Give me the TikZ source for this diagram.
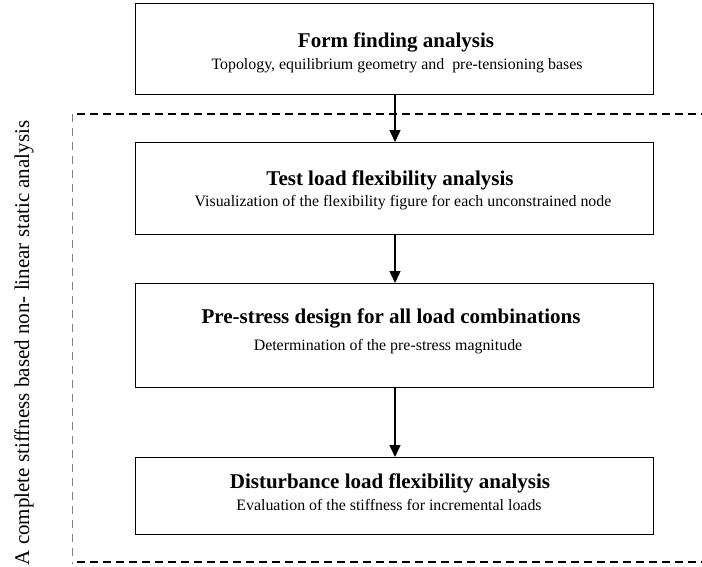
\documentclass[tikz,border=0pt]{standalone}
\usepackage{fontspec}
\setmainfont{Liberation Serif}
\usetikzlibrary{arrows.meta}
\begin{document}
\begin{tikzpicture}[x=1pt,y=-1pt,
  stepbox/.style={draw,line width=1.4pt,minimum width=518pt,inner sep=0pt,align=center},
  ttl/.style={font=\fontsize{21}{23}\selectfont\bfseries,inner sep=0pt,anchor=base},
  sub/.style={font=\fontsize{15.9}{17}\selectfont,inner sep=0pt,anchor=base},
  flow/.style={line width=1.4pt,-{Triangle[width=11pt,length=12pt]}},
  groupline/.style={line width=1.8pt,dash pattern=on 8pt off 5pt},
  sideline/.style={gray,line width=0.7pt,dash pattern=on 8pt off 6pt}]
\useasboundingbox (0,0) rectangle (702,566);
% boxes
\node[stepbox,minimum height=91pt,anchor=north west] (b1) at (135,3) {};
\node[stepbox,minimum height=92pt,anchor=north west] (b2) at (135,142) {};
\node[stepbox,minimum height=104pt,anchor=north west] (b3) at (135,283) {};
\node[stepbox,minimum height=77pt,anchor=north west] (b4) at (135,457) {};
% texts
\node[ttl] (t1) at (396,47) {Form finding analysis};
\node[sub] (s1) at (397,69) {Topology, equilibrium geometry and\ \ pre-tensioning bases};
\node[ttl] (t2) at (390,185) {Test load flexibility analysis};
\node[sub] (s2) at (403,206) {Visualization of the flexibility figure for each unconstrained node};
\node[ttl] (t3) at (391,323) {Pre-stress design for all load combinations};
\node[sub] (s3) at (388,350) {Determination of the pre-stress magnitude};
\node[ttl] (t4) at (390,488) {Disturbance load flexibility analysis};
\node[sub] (s4) at (389,510) {Evaluation of the stiffness for incremental loads};
% arrows
\draw[flow] (b1.south -| 395,0) -- (b2.north -| 395,0);
\draw[flow] (b2.south -| 395,0) -- (b3.north -| 395,0);
\draw[flow] (b3.south -| 395,0) -- (b4.north -| 395,0);
% group
\coordinate (gtl) at (77,114);
\coordinate (gtr) at (702,114);
\coordinate (gbl) at (77,562);
\coordinate (gbr) at (702,562);
\coordinate (vt) at (72,114);
\coordinate (vb) at (72,564);
\draw[groupline] (gtl) -- (gtr);
\draw[groupline] (gbl) -- (gbr);
\draw[sideline] (vt) -- (vb);
\node[rotate=90,font=\fontsize{21}{23}\selectfont,inner sep=0pt] (side) at (24,343) {A complete stiffness based non- linear static analysis};
\end{tikzpicture}
\end{document}
